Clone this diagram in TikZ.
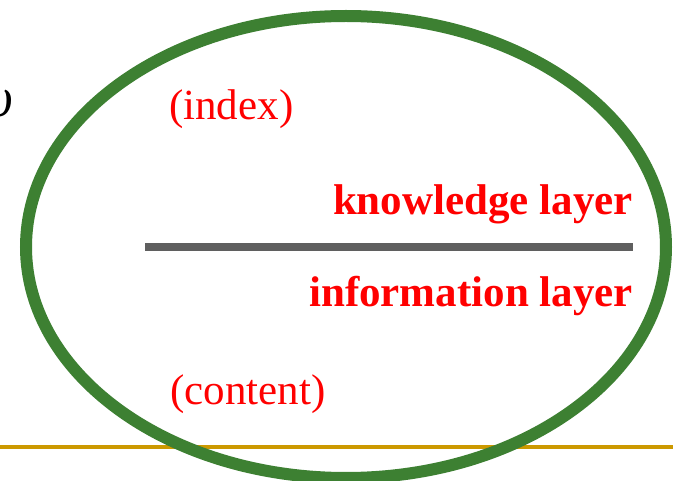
\documentclass[tikz,border=0pt]{standalone}
\usepackage{fontspec}
\setmainfont{Liberation Serif}
\definecolor{ringgreen}{HTML}{3D8032}
\definecolor{gold}{HTML}{CC9900}
\definecolor{bargray}{HTML}{5F5F5F}
\definecolor{txtred}{HTML}{FF0000}
\begin{document}
\begin{tikzpicture}[x=1pt,y=-1pt,
  lbl/.style={inner sep=0pt,text=txtred,font=\fontsize{43}{50}\selectfont},
  blbl/.style={lbl,font=\fontsize{43}{50}\selectfont\bfseries}]
\useasboundingbox (0,0) rectangle (673,481);
\fill[white] (0,0) rectangle (673,481);
\draw[gold,line width=4.5pt] (0,447) -- (673,447);
\draw[ringgreen,line width=12pt] (346,247) ellipse [x radius=320,y radius=231];
\draw[bargray,line width=8pt] (145,247) -- (633,247);
\node[lbl,anchor=base west] (idx) at (169,120) {(index)};
\node[blbl,anchor=base east] (know) at (633,215) {knowledge layer};
\node[blbl,anchor=base east] (info) at (633,307) {information layer};
\node[lbl,anchor=base west] (cont) at (170,405) {(content)};
\node[inner sep=0pt,anchor=base east,font=\fontsize{56}{60}\selectfont\itshape] (ups) at (13,117) {υ};
\end{tikzpicture}
\end{document}
